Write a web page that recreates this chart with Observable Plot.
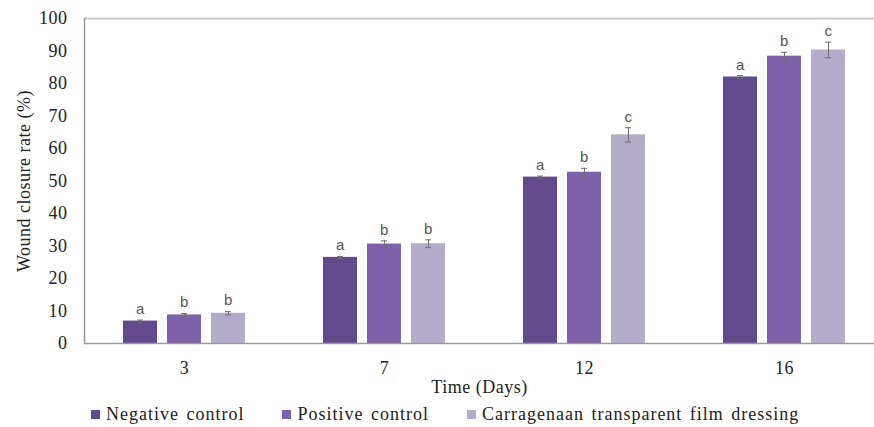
<!DOCTYPE html>
<html>
<head>
<meta charset="utf-8">
<script src="https://cdn.jsdelivr.net/npm/d3@7"></script>
<script src="https://cdn.jsdelivr.net/npm/@observablehq/plot@0.6"></script>
<style>
  body { margin: 0; background: #fff; }
  #chart svg { display: block; }
  .legend { height: 26px; display: flex; align-items: center; font-family: "Liberation Serif", serif; font-size: 18px; color: #222; padding-left: 91px; letter-spacing: 1px; word-spacing: 2px; }
  .legend .item { display: flex; align-items: center; margin-right: 38px; }
  .legend .sw { width: 9px; height: 9px; margin-right: 6px; }
</style>
</head>
<body>
<div id="chart"></div>
<script>
const days = ["3", "7", "12", "16"];
const series = ["Negative control", "Positive control", "Carragenaan transparent film dressing"];
const colors = ["#614b8c", "#7d61a9", "#b4abcb"];
const negative = [6.9, 26.5, 51.2, 82.0];
const positive = [8.8, 30.6, 52.7, 88.4];
const carrageenan = [9.3, 30.7, 64.2, 90.3];
const negativeErr = [0.3, 0.3, 0.3, 0.4];
const positiveErr = [0.4, 1.0, 1.2, 1.2];
const carrageenanErr = [0.5, 1.2, 2.2, 2.4];
const negativeLetters = ["a", "a", "a", "a"];
const positiveLetters = ["b", "b", "b", "b"];
const carrageenanLetters = ["b", "b", "c", "c"];
const yTicks = [0, 10, 20, 30, 40, 50, 60, 70, 80, 90, 100];

const groups = [
  {values: negative, errs: negativeErr, letters: negativeLetters},
  {values: positive, errs: positiveErr, letters: positiveLetters},
  {values: carrageenan, errs: carrageenanErr, letters: carrageenanLetters}
];

const band = 200, barW = 34, step = 44;
const marks = [];
groups.forEach((g, i) => {
  const data = days.map((d, j) => ({day: d, value: g.values[j], err: g.errs[j], letter: g.letters[j]}));
  const insetLeft = band / 2 - barW / 2 + step * (i - 1);
  const insetRight = band - insetLeft - barW;
  const dx = step * (i - 1);
  marks.push(Plot.barY(data, {x: "day", y: "value", fill: colors[i], insetLeft, insetRight}));
  marks.push(Plot.ruleX(data, {x: "day", y1: d => d.value - d.err, y2: d => d.value + d.err, dx, stroke: "#6e6e6e", strokeWidth: 1}));
  marks.push(Plot.tickY(data, {x: "day", y: d => d.value + d.err, insetLeft: band / 2 + dx - 3, insetRight: band / 2 - dx - 3, stroke: "#6e6e6e", strokeWidth: 1}));
  marks.push(Plot.tickY(data, {x: "day", y: d => d.value - d.err, insetLeft: band / 2 + dx - 3, insetRight: band / 2 - dx - 3, stroke: "#6e6e6e", strokeWidth: 1}));
  marks.push(Plot.text(data, {x: "day", y: d => d.value + d.err, text: "letter", dx, dy: -11, fill: "#555", fontSize: 15, fontFamily: "Liberation Sans, sans-serif"}));
});

const chart = Plot.plot({
  width: 874,
  height: 401,
  marginLeft: 84,
  marginRight: 0,
  marginTop: 18,
  marginBottom: 58,
  style: {fontFamily: "Liberation Serif, serif", fontSize: "18px", color: "#222", background: "#fff"},
  x: {type: "band", domain: days, range: [84, 884], padding: 0},
  y: {domain: [0, 100]},
  marks: [
    Plot.ruleY([100], {stroke: "#c8c8c8", strokeWidth: 2}),
    ...marks,
    Plot.ruleY([0], {stroke: "#9a9a9a", strokeWidth: 1.5}),
    Plot.frame({anchor: "left", stroke: "#9a9a9a", strokeWidth: 1.5}),
    Plot.axisY(yTicks, {tickSize: 0, tickPadding: 17, label: "Wound closure rate (%)", labelAnchor: "center", labelOffset: 67, fontSize: 18, labelArrow: "none"}),
    Plot.axisX({tickSize: 0, tickPadding: 18, label: "Time (Days)", labelAnchor: "center", labelOffset: 49, fontSize: 18, labelArrow: "none"})
  ]
});
chart.querySelectorAll("text").forEach(t => t.style.letterSpacing = "0.5px");
document.getElementById("chart").appendChild(chart);

const legend = document.createElement("div");
legend.className = "legend";
series.forEach((s, i) => {
  const item = document.createElement("div");
  item.className = "item";
  const sw = document.createElement("span");
  sw.className = "sw";
  sw.style.background = colors[i];
  const label = document.createElement("span");
  label.textContent = s;
  item.appendChild(sw);
  item.appendChild(label);
  legend.appendChild(item);
});
document.getElementById("chart").appendChild(legend);
</script>
</body>
</html>
